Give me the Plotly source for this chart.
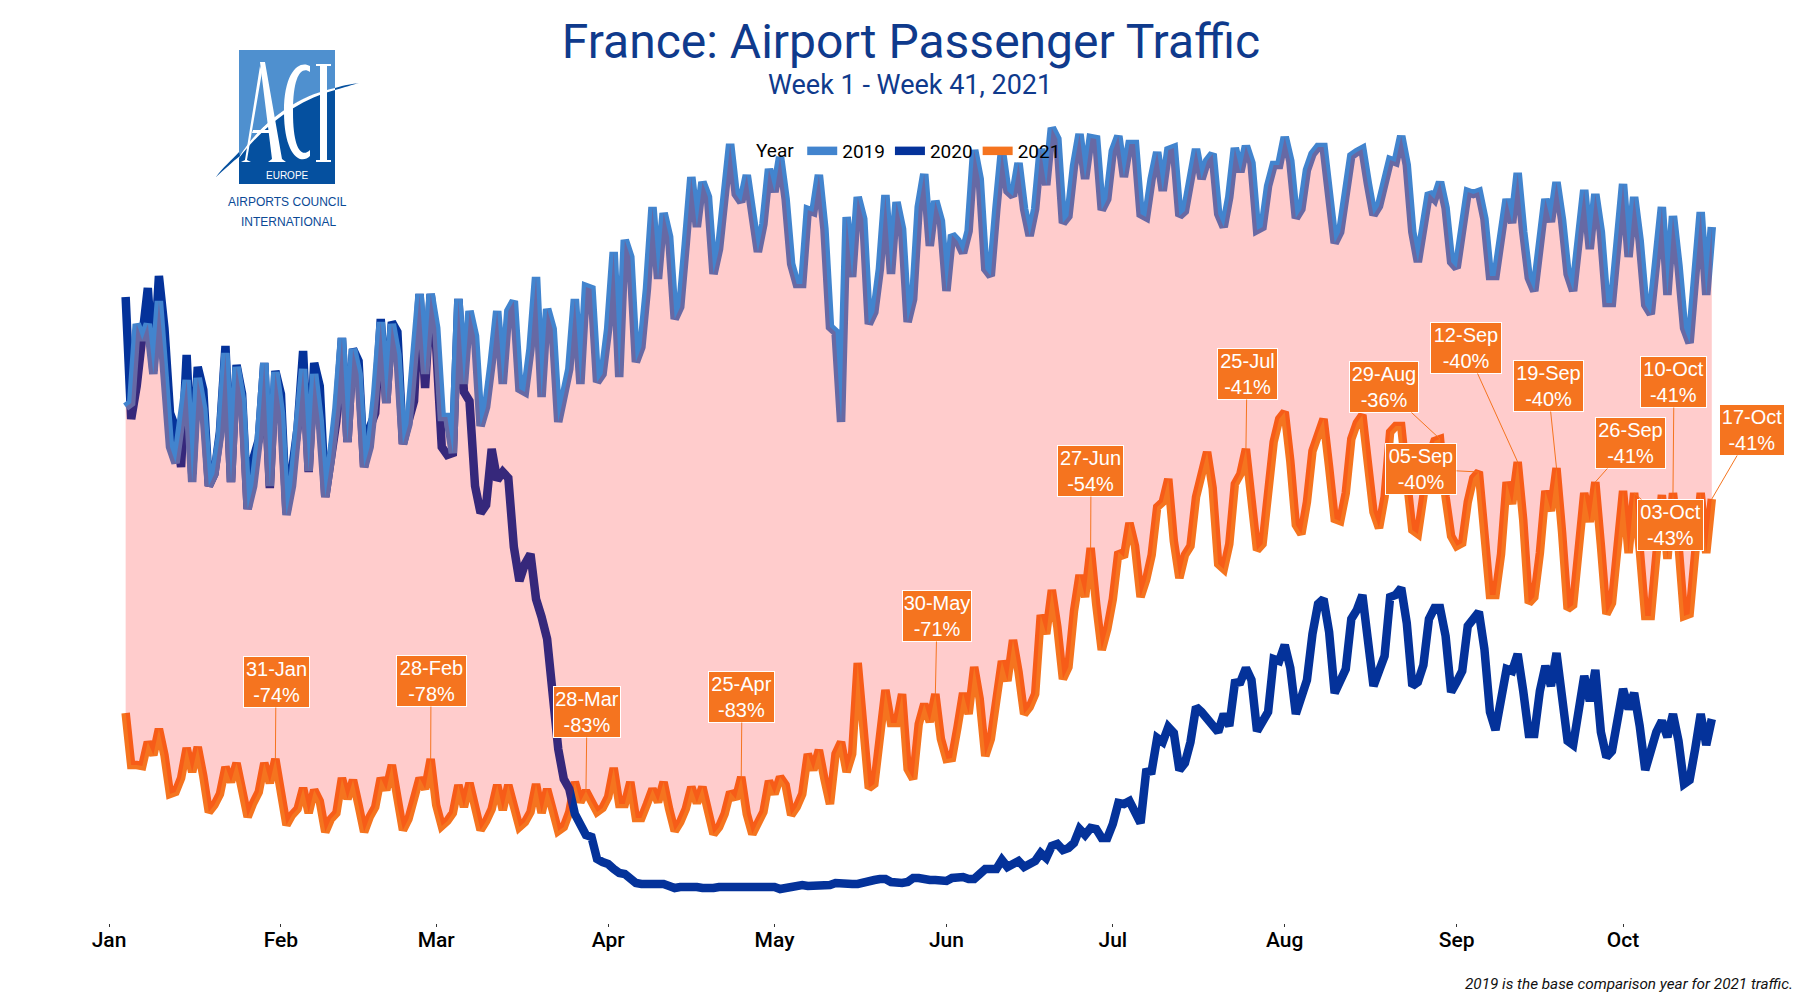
import pandas as pd
import plotly.graph_objects as go

# Daily airport passengers (estimated, thousands), aligned on ISO week/day, week 1 - week 41
traffic_2019 = [
    485,489,568,552,568,518,591,529,445,429,464,512,410,514,483,406,418,456,539,410,525,491,383,406,452,529,406,520,479,377,406,464,523,421,518,
    471,395,433,483,554,450,543,518,425,445,498,570,489,568,537,448,468,529,598,518,598,564,475,475,439,593,508,581,556,466,485,529,581,508,581,591,
    503,500,543,615,495,583,563,470,498,523,593,508,605,603,510,518,563,640,515,652,635,530,545,603,685,613,679,655,573,585,648,715,665,710,695,618,
    643,693,748,698,690,717,678,640,668,723,700,735,693,628,608,608,682,680,717,663,565,560,470,675,615,695,673,568,580,623,697,618,690,663,570,593,685,
    718,646,691,671,601,657,651,639,661,742,713,623,616,683,741,701,696,729,683,656,683,743,707,764,753,669,676,726,758,713,754,753,682,693,741,756,
    715,748,748,678,675,713,740,701,742,744,676,681,713,743,713,731,738,678,665,695,744,720,746,729,662,665,706,727,727,755,731,674,683,722,738,745,
    745,703,649,660,695,736,740,743,708,677,686,708,732,730,756,727,660,630,664,699,693,710,684,630,624,664,700,698,700,673,616,616,656,693,669,719,
    660,614,601,651,693,670,710,672,618,601,660,702,643,698,660,589,589,651,708,635,695,651,587,578,626,685,597,676,626,564,549,618,680,597,665,
]
traffic_2020 = [
    595,473,506,552,604,521,616,564,479,464,425,537,418,525,502,406,418,460,546,410,527,498,383,433,452,529,404,521,498,379,429,464,541,420,529,
    506,395,437,471,554,450,543,531,425,464,479,573,489,570,560,448,471,491,598,504,598,545,445,437,439,593,500,491,406,379,387,443,412,420,414,345,
    311,328,338,293,275,253,198,143,113,103,78,68,57,55,33,30,28,23,19,18,13,9,8,8,9,10,8,6,4,5,5,7,5,4,3,4,
    5,5,4,5,4,5,5,6,6,5,5,3,4,6,8,7,6,6,6,7,7,9,8,8,8,8,10,10,12,13,13,10,9,9,10,14,14,
    12,12,12,11,11,14,15,15,13,13,18,23,23,23,32,25,28,31,25,28,31,39,34,46,48,42,44,49,63,57,64,63,54,54,68,89,
    88,91,81,69,120,121,154,150,165,159,122,129,150,185,180,173,165,160,178,166,209,210,224,212,161,171,180,233,231,247,224,178,196,212,258,288,
    293,260,199,210,223,273,282,297,251,206,221,236,295,297,304,269,206,210,227,273,284,284,256,200,210,221,266,273,280,243,180,162,190,223,221,238,
    201,158,158,201,226,206,239,201,151,147,185,216,191,222,160,135,141,172,203,183,199,166,122,141,160,171,155,178,151,108,112,143,178,147,173,
]
traffic_2021 = [
    179,127,127,126,150,137,163,137,98,100,114,144,120,145,116,80,87,98,125,110,129,106,75,89,100,129,109,133,100,67,77,83,104,79,102,
    91,60,73,79,114,93,112,87,60,75,85,114,102,127,87,62,73,91,114,103,133,87,66,71,79,107,85,109,87,62,71,83,107,82,107,87,
    65,70,80,108,79,103,85,61,65,80,110,90,101,90,80,84,95,124,88,88,110,74,74,88,103,90,110,83,61,70,83,105,89,105,83,58,
    65,78,100,93,115,78,58,70,80,111,98,115,107,77,85,98,138,122,142,113,88,138,150,120,138,229,163,104,108,148,202,169,169,198,123,113,168,
    188,170,198,153,133,134,165,199,178,225,193,136,153,198,231,211,252,220,178,185,198,277,258,302,265,213,225,281,317,295,344,288,242,263,293,340,
    335,369,346,295,312,337,385,390,413,351,314,337,346,395,418,440,404,328,323,348,408,418,443,388,342,348,404,450,473,480,431,367,358,390,441,459,
    473,425,373,371,399,453,469,477,421,380,364,395,460,466,466,403,362,358,390,434,451,453,395,356,346,349,390,414,420,364,297,297,338,410,388,430,
    372,289,295,339,401,381,424,360,283,287,343,399,370,410,347,278,289,347,401,339,399,343,276,276,343,397,333,399,347,276,278,347,399,339,393,
]
dates = pd.date_range("2021-01-04", periods=len(traffic_2021), freq="D")

month_ticks = ["2021-01-01","2021-02-01","2021-03-01","2021-04-01","2021-05-01","2021-06-01","2021-07-01","2021-08-01","2021-09-01","2021-10-01"]
month_labels = ["Jan","Feb","Mar","Apr","May","Jun","Jul","Aug","Sep","Oct"]

callout_dates = ["2021-01-31","2021-02-28","2021-03-28","2021-04-25","2021-05-30","2021-06-27","2021-07-25","2021-08-29","2021-09-05","2021-09-12","2021-09-19","2021-09-26","2021-10-03","2021-10-10","2021-10-17"]
callout_names = ["31-Jan","28-Feb","28-Mar","25-Apr","30-May","27-Jun","25-Jul","29-Aug","05-Sep","12-Sep","19-Sep","26-Sep","03-Oct","10-Oct","17-Oct"]
callout_pcts = ["-74%","-78%","-83%","-83%","-71%","-54%","-41%","-36%","-40%","-40%","-40%","-41%","-43%","-41%","-41%"]
callout_box_x = [276,431,587,742,937,1091,1247,1384,1421,1466,1548,1630,1670,1674,1752]
callout_box_y = [682,681,712,697,616,471,374,387,469,348,386,443,525,382,430]
callout_box_w = [67,71,68,67,70,67,61,70,72,72,71,71,67,67,66]

C2019, C2020, C2021 = "#4284CE", "#04329A", "#F5741F"
NAVY = "#0F3A8C"
W, H = 1800, 1000
PX_PER_DAY = 5.546
JAN1_PX = 109.0
BASE_PX = 892      # pixel row of value 0
AXIS_PX = 923      # pixel row of the axis

jan1 = pd.Timestamp("2021-01-01")
x_left = jan1 - pd.Timedelta(days=JAN1_PX / PX_PER_DAY)
x_right = jan1 + pd.Timedelta(days=(W - JAN1_PX) / PX_PER_DAY)

def px(x, y):
    return f"{x / W:.5f},{1 - y / H:.5f}"

def path(*cmds):
    out = []
    for c in cmds:
        if isinstance(c, str):
            out.append(c)
        else:
            out.append(px(*c))
    return " ".join(out)

LW = 8.5
fig = go.Figure()
fig.add_trace(go.Scatter(x=dates, y=traffic_2021, mode="lines", name="2021", legendrank=3, line=dict(color=C2021, width=LW), hoverinfo="x+y"))
fig.add_trace(go.Scatter(x=dates, y=traffic_2020, mode="lines", name="2020", legendrank=2, line=dict(color=C2020, width=LW), hoverinfo="x+y"))
fig.add_trace(go.Scatter(x=dates, y=traffic_2019, mode="lines", name="2019", legendrank=1, line=dict(color=C2019, width=LW), hoverinfo="x+y"))
# ribbon lies over the lines, tinting whatever is inside it
fig.add_trace(go.Scatter(x=dates, y=traffic_2021, mode="lines", line=dict(width=0), showlegend=False, hoverinfo="skip"))
fig.add_trace(go.Scatter(x=dates, y=traffic_2019, mode="lines", line=dict(width=0), fill="tonexty", fillcolor="rgba(255,0,0,0.2)", showlegend=False, hoverinfo="skip"))

annotations = []
for d, name, pct, bx, by, bw in zip(callout_dates, callout_names, callout_pcts, callout_box_x, callout_box_y, callout_box_w):
    idx = (pd.Timestamp(d) - dates[0]).days
    val = traffic_2021[idx]
    tip_x = JAN1_PX + PX_PER_DAY * (pd.Timestamp(d) - jan1).days
    tip_y = BASE_PX - val
    annotations.append(dict(
        x=d, y=val, xref="x", yref="y", text=f"{name}<br>{pct}", showarrow=True,
        ax=bx - tip_x, ay=by - tip_y, axref="pixel", ayref="pixel",
        arrowhead=0, arrowwidth=1, arrowcolor=C2021, standoff=0,
        bgcolor=C2021, bordercolor="white", borderwidth=1, borderpad=1, width=bw - 4, height=48,
        font=dict(family="Liberation Sans, Arial, sans-serif", size=20, color="white"), align="center",
    ))

annotations += [
    dict(text="Week 1 - Week 41, 2021", x=910 / W, y=1 - 85 / H, xref="paper", yref="paper", showarrow=False,
         font=dict(family="Roboto", size=27, color=NAVY), xanchor="center", yanchor="middle"),
    dict(text="<i>2019 is the base comparison year for 2021 traffic.</i>", x=1795 / W, y=1 - 984 / H, xref="paper", yref="paper", showarrow=False,
         font=dict(family="Roboto", size=15.3, color="#111111"), xanchor="right", yanchor="middle"),
    dict(text="EUROPE", x=287 / W, y=1 - 176 / H, xref="paper", yref="paper", showarrow=False,
         font=dict(family="Liberation Sans Narrow, Liberation Sans", size=10, color="white"), xanchor="center", yanchor="middle"),
    dict(text="AIRPORTS COUNCIL", x=287 / W, y=1 - 202 / H, xref="paper", yref="paper", showarrow=False,
         font=dict(family="Liberation Sans Narrow, Liberation Sans", size=12, color="#0B4A96"), xanchor="center", yanchor="middle"),
    dict(text="INTERNATIONAL", x=288 / W, y=1 - 222 / H, xref="paper", yref="paper", showarrow=False,
         font=dict(family="Liberation Sans Narrow, Liberation Sans", size=12, color="#0B4A96"), xanchor="center", yanchor="middle"),
]

LOGO_DARK, LOGO_LIGHT = "#05509F", "#4F90CF"
def logo_shape(d, color):
    return dict(type="path", path=d, xref="paper", yref="paper", fillcolor=color, line=dict(width=0), layer="above")

shapes = [
    logo_shape(path("M", (239, 50), "L", (335, 50), "L", (335, 184), "L", (239, 184), "Z"), LOGO_DARK),
    logo_shape(path("M", (239, 50), "L", (335, 50), "L", (335, 89), "C", (300, 95), (262, 120), (239, 157), "Z"), LOGO_LIGHT),
    # letter forms of the ACI mark
    logo_shape(path("M", (260, 66), "L", (262, 72), "L", (247, 160), "L", (251, 162), "L", (241, 162), "L", (245, 160), "Z"), "white"),
    logo_shape(path("M", (260, 62), "L", (265, 62), "L", (282, 159), "L", (286, 162), "L", (268, 162), "L", (272, 159), "Z"), "white"),
    logo_shape(path("M", (253, 130), "L", (270, 130), "L", (270, 133), "L", (252, 133), "Z"), "white"),
    logo_shape(path("M", (310, 66), "C", (300, 60), (284, 70), (284, 112), "C", (284, 154), (300, 166), (310, 156), "L", (310, 150), "C", (302, 158), (293, 150), (293, 112), "C", (293, 74), (302, 66), (310, 72), "Z"), "white"),
    logo_shape(path("M", (316, 64), "L", (331, 64), "L", (331, 66), "L", (327, 66), "L", (327, 160), "L", (331, 160), "L", (331, 162), "L", (316, 162), "L", (316, 160), "L", (320, 160), "L", (320, 66), "L", (316, 66), "Z"), "white"),
    # swoosh
    logo_shape(path("M", (239, 157), "C", (262, 120), (300, 95), (335, 88), "L", (335, 90), "C", (300, 99), (266, 123), (239, 158), "Z"), "white"),
    logo_shape(path("M", (216, 177), "C", (222, 168), (232, 160), (239, 152), "L", (240, 156), "C", (232, 162), (224, 170), (216, 177), "Z"), LOGO_DARK),
    logo_shape(path("M", (335, 88), "C", (345, 85), (352, 84), (359, 83), "C", (352, 85), (345, 87), (335, 90), "Z"), LOGO_DARK),
]

fig.update_layout(
    width=W, height=H, autosize=False,
    margin=dict(l=0, r=0, t=0, b=0, pad=0),
    paper_bgcolor="white", plot_bgcolor="white",
    title=dict(text="France: Airport Passenger Traffic", x=911 / W, xanchor="center", y=1 - 41 / H, yanchor="middle",
               xref="paper", yref="paper", font=dict(family="Roboto", size=48, color=NAVY)),
    xaxis=dict(type="date", range=[x_left, x_right], tickvals=month_ticks, ticktext=month_labels, domain=[0, 1],
               showgrid=False, zeroline=False, showline=False, ticks="outside", ticklen=3, tickwidth=1, tickcolor="#333333",
               ticklabelstandoff=-5,
               tickfont=dict(family="Roboto", size=21, color="black", weight=500), automargin=False),
    yaxis=dict(visible=False, range=[BASE_PX - AXIS_PX, BASE_PX], domain=[1 - AXIS_PX / H, 1], automargin=False),
    legend=dict(title=dict(text="Year", side="left", font=dict(family="Roboto", size=19, color="black")),
                orientation="h", x=754 / W, xanchor="left", y=1 - 132 / H, yanchor="top", bgcolor="rgba(0,0,0,0)",
                font=dict(family="Roboto", size=19, color="black"), itemwidth=30, traceorder="normal"),
    annotations=annotations,
    shapes=shapes,
)

fig.write_html("out.html", post_script="document.body.style.margin='0';", config={"displayModeBar": False})
